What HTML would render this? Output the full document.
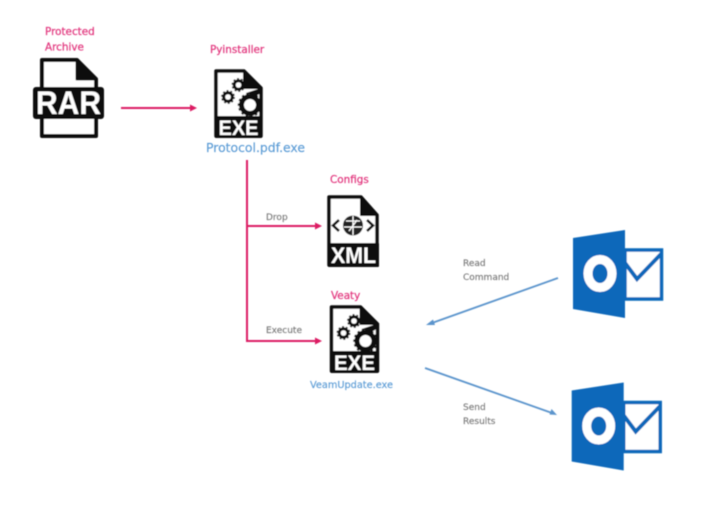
<!DOCTYPE html>
<html>
<head>
<meta charset="utf-8">
<style>
html,body{margin:0;padding:0;background:#fff;width:722px;height:507px;overflow:hidden}
svg{display:block}
text{font-family:"DejaVu Sans","Liberation Sans",sans-serif}
.r{fill:#e2397f;stroke:#e2397f;stroke-width:.25px;font-size:10.4px}
.b{fill:#5b9bd5;stroke:#5b9bd5;stroke-width:.15px;font-size:11px}
.g{fill:#7a7a7a;stroke:#7a7a7a;stroke-width:.15px;font-size:9px}
.i{font-family:"Liberation Sans",sans-serif;font-weight:bold;fill:#fff}
</style>
</head>
<body>
<svg width="722" height="507" viewBox="0 0 722 507" xmlns="http://www.w3.org/2000/svg">
<defs>
<filter id="s" x="-5%" y="-5%" width="110%" height="110%"><feGaussianBlur stdDeviation="0.5"/></filter>
<g id="gears">
  <circle cx="24.500" cy="16" r="4.300" fill="none" stroke="#111" stroke-width="3"/>
  <circle cx="24.500" cy="16" r="6.300" fill="none" stroke="#111" stroke-width="1.300" stroke-dasharray="2 2"/>
  <circle cx="14" cy="28" r="4.300" fill="none" stroke="#111" stroke-width="3"/>
  <circle cx="14" cy="28" r="6.300" fill="none" stroke="#111" stroke-width="1.300" stroke-dasharray="2 2"/>
  <circle cx="36" cy="36" r="8.500" fill="#fff" stroke="#111" stroke-width="5"/>
  <circle cx="36" cy="36" r="11.500" fill="none" stroke="#111" stroke-width="1.500" stroke-dasharray="2.500 2.500"/>
  <path d="M32 24 L47 19 V24 L42 27Z" fill="#111"/>
</g>
</defs>
<g filter="url(#s)">
  <!-- RAR -->
  <path d="M42 60 H77 L96 79 V136 H42Z" fill="#fff" stroke="#111" stroke-width="4" stroke-linejoin="round"/>
  <path d="M77 60 L96 79 H77Z" fill="#111" stroke="#111" stroke-width="3" stroke-linejoin="round"/>
  <rect x="33" y="87" width="71" height="32" rx="3" fill="#111"/>
  <text class="i" x="68.500" y="114" font-size="32" text-anchor="middle" textLength="65" lengthAdjust="spacingAndGlyphs">RAR</text>

  <!-- EXE 1 -->
  <g transform="translate(214,69)">
    <path d="M2 2 H30 L47 19 V67 H2Z" fill="#fff" stroke="#111" stroke-width="3.500" stroke-linejoin="round"/>
    <path d="M30 2 L47 19 H30Z" fill="#111" stroke="#111" stroke-width="2" stroke-linejoin="round"/>
    <use href="#gears"/>
    <rect x="1" y="47" width="47" height="22" rx="1" fill="#111"/>
    <text class="i" x="24.500" y="66" font-size="21" text-anchor="middle" textLength="40" lengthAdjust="spacingAndGlyphs">EXE</text>
  </g>

  <!-- XML -->
  <g transform="translate(327,195)">
    <path d="M2 2 H34 L50 20 V70 H2Z" fill="#fff" stroke="#111" stroke-width="3.500" stroke-linejoin="round"/>
    <path d="M34 2 L50 20 H34Z" fill="#111" stroke="#111" stroke-width="2" stroke-linejoin="round"/>
    <circle cx="26" cy="30.500" r="10" fill="#222"/>
    <path d="M19 26 H33 M17 32 H35 M26 21 V40 M22 36 L30 25" stroke="#fff" stroke-width="1.300" fill="none"/>
    <path d="M12 25 L6 30.500 L12 36 M40 25 L46 30.500 L40 36" stroke="#111" stroke-width="2.600" fill="none"/>
    <rect x="1" y="48" width="51" height="24" rx="1" fill="#111"/>
    <text class="i" x="26.500" y="68" font-size="22" text-anchor="middle" textLength="45" lengthAdjust="spacingAndGlyphs">XML</text>
  </g>

  <!-- EXE 2 -->
  <g transform="translate(329.500,305)">
    <path d="M2 2 H31 L48 19 V66 H2Z" fill="#fff" stroke="#111" stroke-width="3.500" stroke-linejoin="round"/>
    <path d="M31 2 L48 19 H31Z" fill="#111" stroke="#111" stroke-width="2" stroke-linejoin="round"/>
    <use href="#gears"/>
    <rect x="1" y="46" width="48" height="22" rx="1" fill="#111"/>
    <text class="i" x="25" y="65" font-size="21" text-anchor="middle" textLength="41" lengthAdjust="spacingAndGlyphs">EXE</text>
  </g>

  <!-- Outlook icons -->
  <g id="ol">
    <path d="M573 238 L625 230 V318 L573 309Z" fill="#0a68ba"/>
    <rect x="625" y="250" width="36.500" height="49" fill="#fff" stroke="#0a68ba" stroke-width="3.500"/>
    <path d="M625 263 L637 279 L661 254" fill="none" stroke="#0a68ba" stroke-width="4"/>
    <ellipse cx="600" cy="273.500" rx="12" ry="14" fill="none" stroke="#fff" stroke-width="9"/>
  </g>
  <use href="#ol" transform="translate(-1.300,152.500)"/>

  <!-- Red connectors -->
  <g stroke="#dc1f63" stroke-width="2" fill="none">
    <path d="M121 108 H192"/>
    <path d="M247 160 V341 H318"/>
    <path d="M247 226 H318"/>
  </g>
  <g fill="#dc1f63">
    <path d="M197 108 L190 104.500 V111.500Z"/>
    <path d="M322 226 L315 222.500 V229.500Z"/>
    <path d="M322 341 L315 337.500 V344.500Z"/>
  </g>

  <!-- Blue connectors -->
  <g stroke="#5b94cc" stroke-width="1.800" fill="none">
    <path d="M558 278 L432 323"/>
    <path d="M425 368 L552 413"/>
  </g>
  <g fill="#5b94cc">
    <path d="M426 325 L433 319.500 L435 325Z"/>
    <path d="M557 415 L549.500 414.500 L551.500 409Z"/>
  </g>

  <!-- Labels -->
  <text class="r" x="45" y="35">Protected</text>
  <text class="r" x="45" y="50.500">Archive</text>
  <text class="r" x="210" y="53">Pyinstaller</text>
  <text class="b" x="206" y="152" style="font-size:12px" textLength="99" lengthAdjust="spacingAndGlyphs">Protocol.pdf.exe</text>
  <text class="r" x="330" y="183">Configs</text>
  <text class="r" x="331" y="299">Veaty</text>
  <text class="b" x="310" y="388" style="font-size:10px" textLength="83" lengthAdjust="spacingAndGlyphs">VeamUpdate.exe</text>
  <text class="g" x="266" y="220">Drop</text>
  <text class="g" x="266" y="333">Execute</text>
  <text class="g" x="463" y="266">Read</text>
  <text class="g" x="463" y="280">Command</text>
  <text class="g" x="463" y="410">Send</text>
  <text class="g" x="463" y="424">Results</text>
</g>
</svg>
</body>
</html>
